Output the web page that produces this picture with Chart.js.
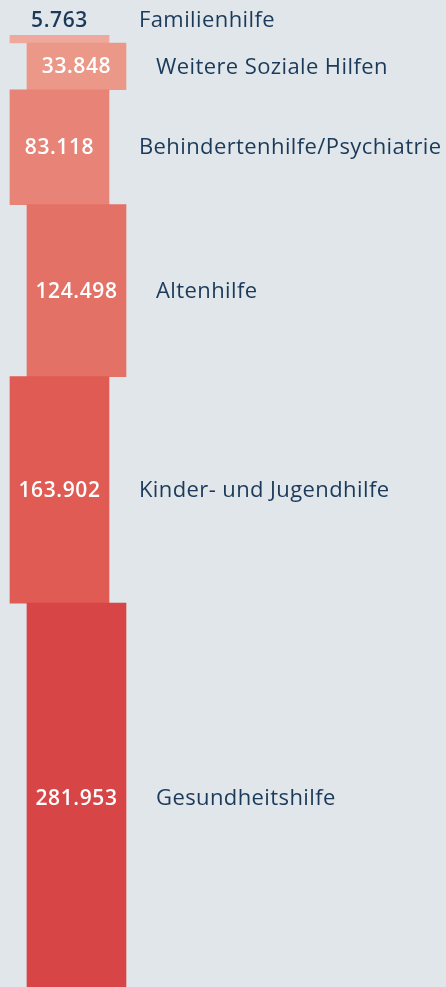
<!DOCTYPE html>
<html>
<head>
<meta charset="utf-8">
<script src="https://cdn.jsdelivr.net/npm/chart.js@4"></script>
<style>
  html, body { margin: 0; padding: 0; background: #e1e6ea; }
  #wrap { width: 446px; height: 987px; position: relative; }
</style>
</head>
<body>
<div id="wrap"><canvas id="stackchart"></canvas></div>
<script>
const categories = ['Familienhilfe', 'Weitere Soziale Hilfen', 'Behindertenhilfe/Psychiatrie', 'Altenhilfe', 'Kinder- und Jugendhilfe', 'Gesundheitshilfe'];
const values = [5763, 33848, 83118, 124498, 163902, 281953];
const valueLabels = ['5.763', '33.848', '83.118', '124.498', '163.902', '281.953'];
const columns = [0, 1, 0, 1, 0, 1];
const colours = ['#eea99c', '#eb9888', '#e78477', '#e37166', '#df5b53', '#d84546'];

document.addEventListener('DOMContentLoaded', function () {
    const ctx = document.getElementById('stackchart').getContext('2d');

    // each block starts where the previous one ends
    let running = 0;
    const blocks = values.map(function (v, i) {
        const b = { x: columns[i], y: [running, running + v] };
        running += v;
        return b;
    });

    const labelPlugin = {
        id: 'blockLabels',
        afterDatasetsDraw: function (chart) {
            const c = chart.ctx;
            const meta = chart.getDatasetMeta(0);
            c.save();
            c.textBaseline = 'middle';
            meta.data.forEach(function (bar, i) {
                const top = Math.min(bar.y, bar.base);
                const bottom = Math.max(bar.y, bar.base);
                const h = bottom - top;
                const right = bar.x + bar.width / 2;
                let ty = (top + bottom) / 2 + 1;
                c.font = '600 21px "Open Sans"';
                c.letterSpacing = '0.6px';
                c.textAlign = 'center';
                if (h < 24) {
                    ty = top - 14;
                    c.fillStyle = '#1b3a5a';
                } else {
                    c.fillStyle = '#ffffff';
                }
                c.fillText(valueLabels[i], bar.x, ty);
                c.font = '22px "Open Sans"';
                c.letterSpacing = '0.4px';
                c.textAlign = 'left';
                c.fillStyle = '#1b3a5a';
                c.fillText(categories[i], right + 30, ty);
            });
            c.restore();
        }
    };

    const chart = new Chart(ctx, {
        type: 'bar',
        data: {
            datasets: [{
                data: blocks,
                backgroundColor: colours,
                borderWidth: 0,
                barThickness: 99
            }]
        },
        options: {
            responsive: true,
            maintainAspectRatio: false,
            animation: false,
            layout: { padding: { top: 35 } },
            plugins: {
                legend: { display: false },
                tooltip: { enabled: false }
            },
            scales: {
                x: { type: 'linear', min: -3.5, max: 22.74, offset: false, display: false },
                y: { min: 0, max: 689000, reverse: true, display: false }
            }
        },
        plugins: [labelPlugin]
    });
});
</script>
</body>
</html>
